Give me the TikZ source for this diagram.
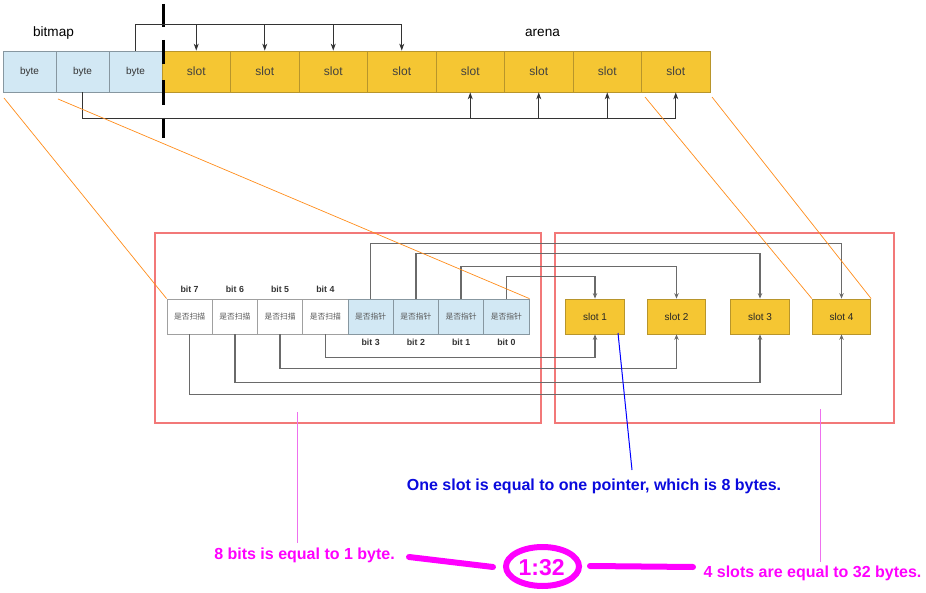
\documentclass[tikz,border=0pt]{standalone}
\usepackage{fontspec}
\setmainfont{Liberation Sans}
\newfontfamily\cjk{Noto Sans CJK SC}
\usetikzlibrary{arrows.meta,shapes.geometric}
\definecolor{bytebg}{HTML}{D2E8F4}
\definecolor{byteline}{HTML}{8797A0}
\definecolor{slotbg}{HTML}{F5C633}
\definecolor{slotline}{HTML}{B8952B}
\definecolor{conngray}{HTML}{6A6A6A}
\definecolor{redbox}{HTML}{F27878}
\definecolor{orangeln}{HTML}{FF8C1A}
\definecolor{bluetx}{HTML}{0A0ADD}
\definecolor{mag}{HTML}{FF00FF}
\definecolor{pinkthin}{HTML}{EE70EE}
\definecolor{bitline}{HTML}{A0A0A0}
\tikzset{
  bytebox/.style={draw=byteline, fill=bytebg, line width=0.8pt, minimum width=53pt, minimum height=41pt, inner sep=0pt, font=\fontsize{10}{12}\selectfont, text=black!80},
  slotbox/.style={draw=slotline, fill=slotbg, line width=0.8pt, minimum width=68.5pt, minimum height=41pt, inner sep=0pt, font=\fontsize{12}{14}\selectfont, text=black!75},
  bitw/.style={draw=bitline, fill=white, line width=0.8pt, minimum width=45.25pt, minimum height=35pt, inner sep=0pt, font=\cjk\fontsize{7.8}{9}\selectfont, text=black!65},
  bitb/.style={bitw, draw=byteline, fill=bytebg},
  lslot/.style={draw=slotline, fill=slotbg, line width=0.8pt, minimum width=58.5pt, minimum height=35pt, inner sep=0pt, font=\fontsize{10}{12}\selectfont, text=black!85},
  bitlbl/.style={font=\bfseries\fontsize{8.8}{10}\selectfont, text=black!80, anchor=base, inner sep=0pt},
  topline/.style={draw=black!80, line width=0.9pt},
  toparrow/.style={topline, -{Stealth[length=7pt,width=5pt]}},
  conn/.style={draw=conngray, line width=1.4pt},
  connarrow/.style={conn, -{Stealth[length=5.5pt,width=4.5pt]}},
  orln/.style={draw=orangeln, line width=0.7pt},
  redframe/.style={draw=redbox, line width=1.4pt, inner sep=0pt},
  anno/.style={font=\bfseries\fontsize{16}{18}\selectfont, anchor=base, inner sep=0pt},
  thickmag/.style={draw=mag, line width=6pt, line cap=round},
}
\begin{document}
\begin{tikzpicture}[x=1pt,y=-1pt]
\useasboundingbox (0,0) rectangle (926,593);
% labels
\node[font=\fontsize{13.6}{15}\selectfont, anchor=base, inner sep=0pt] (lbm) at (53.5,37) {bitmap};
\node[font=\fontsize{13.6}{15}\selectfont, anchor=base, inner sep=0pt] (lar) at (542.5,37) {arena};
% bytes
\node[bytebox] (by1) at (29.5,71.5) {byte};
\node[bytebox] (by2) at (82.5,71.5) {byte};
\node[bytebox] (by3) at (135.5,71.5) {byte};
% slots
\foreach \i/\x in {1/196.25,2/264.75,3/333.25,4/401.75,5/470.25,6/538.75,7/607.25,8/675.75}
  \node[slotbox] (sl\i) at (\x,71.5) {slot};
% separator
\draw[line width=3pt, black] (163,4)--(163,27) (163,40)--(163,64) (163,80)--(163,105) (163,118)--(163,138);
% top connectors
\draw[toparrow] (by3.north) -- ++(0,-26) coordinate (tA) -| (sl4.north);
\foreach \i in {1,2,3} \draw[toparrow] (sl\i.north |- tA) -- (sl\i.north);
\draw[toparrow] (by2.south) -- ++(0,26) coordinate (bA) -| (sl8.south);
\foreach \i in {5,6,7} \draw[toparrow] (sl\i.south |- bA) -- (sl\i.south);
% red frames
\node[redframe, minimum width=386pt, minimum height=190pt] (rl) at (348,328) {};
\node[redframe, minimum width=339pt, minimum height=190pt] (rr) at (724.5,328) {};
% bits
\foreach \i/\x in {7/189.6,6/234.9,5/280.1,4/325.4}
  \node[bitw] (b\i) at (\x,316.5) {是否扫描};
\foreach \i/\x in {3/370.6,2/415.9,1/461.1,0/506.4}
  \node[bitb] (b\i) at (\x,316.5) {是否指针};
\foreach \i in {7,6,5,4}
  \node[bitlbl] at (b\i.center |- 0,293) {bit \i};
\foreach \i in {3,2,1,0}
  \node[bitlbl] at (b\i.center |- 0,346) {bit \i};
% lower slots
\node[lslot] (t1) at (595,316.5) {slot 1};
\node[lslot] (t2) at (676.5,316.5) {slot 2};
\node[lslot] (t3) at (760,316.5) {slot 3};
\node[lslot] (t4) at (841.5,316.5) {slot 4};
% bit connectors
\draw[connarrow] (b3.north) -- ++(0,-55) -| (t4.north);
\draw[connarrow] (b2.north) -- ++(0,-45) -| (t3.north);
\draw[connarrow] (b1.north) -- ++(0,-32) -| (t2.north);
\draw[connarrow] (b0.north) -- ++(0,-22) -| (t1.north);
\draw[connarrow] (b4.south) -- ++(0,23) -| (t1.south);
\draw[connarrow] (b5.south) -- ++(0,34) -| (t2.south);
\draw[connarrow] (b6.south) -- ++(0,48) -| (t3.south);
\draw[connarrow] (b7.south) -- ++(0,60) -| (t4.south);
% orange zoom lines
\coordinate (o1) at (4,98);
\coordinate (o2) at (58,99);
\coordinate (o3) at (645,97);
\coordinate (o4) at (712,97);
\draw[orln] (o1) -- (b7.north west);
\draw[orln] (o2) -- (b0.north east);
\draw[orln] (o3) -- (t4.north west);
\draw[orln] (o4) -- (t4.north east);
% annotations
\node[anno, text=bluetx] (nb) at (594,490) {One slot is equal to one pointer, which is 8 bytes.};
\coordinate (bl1) at (618,333);
\coordinate (bl2) at (632,470);
\draw[draw=blue, line width=1pt] (bl1) -- (bl2);
\node[anno, text=mag] (n8) at (304.5,559) {8 bits is equal to 1 byte.};
\node[anno, text=mag] (n4) at (812.5,577) {4 slots are equal to 32 bytes.};
\coordinate (pl) at (297,412);
\coordinate (pr) at (820,409);
\draw[draw=pinkthin, line width=0.9pt] (pl) -- (297,543);
\draw[draw=pinkthin, line width=0.9pt] (pr) -- (820,562);
\node[draw=mag, line width=6pt, ellipse, inner sep=0pt, minimum width=73pt, minimum height=39pt] (ratio) at (542.5,566.5) {};
\node[font=\bfseries\fontsize{23}{26}\selectfont, text=mag, anchor=base, inner sep=0pt] (rt) at (541.7,575) {1:32};
\coordinate (m1) at (409,557);
\coordinate (m2) at (493,567);
\coordinate (m3) at (590,566);
\coordinate (m4) at (693,567);
\draw[thickmag] (m1) -- (m2);
\draw[thickmag] (m3) -- (m4);
\end{tikzpicture}
\end{document}
